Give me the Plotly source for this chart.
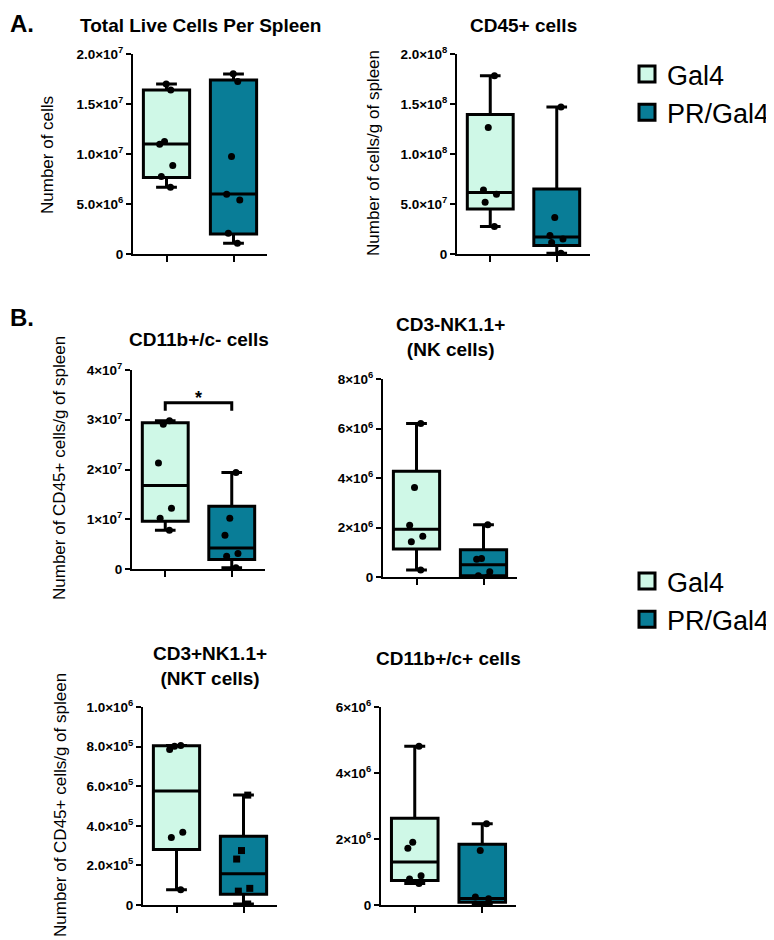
import plotly.graph_objects as go

groups = ["Gal4", "PR/Gal4"]
fill_colors = ["#cff8e7", "#097d97"]

# A. total live cells per spleen
live_gal4 = [17.0e6, 16.4e6, 11.25e6, 10.98e6, 8.85e6, 7.75e6, 6.68e6]
live_pr = [18.03e6, 17.26e6, 9.75e6, 5.98e6, 5.41e6, 2.07e6, 1.07e6]
live_stats_gal4 = [6.68e6, 7.65e6, 11.0e6, 16.4e6, 17.0e6]   # min, q1, median, q3, max
live_stats_pr = [1.07e6, 2.0e6, 6.0e6, 17.4e6, 18.0e6]

# A. CD45+ cells per g of spleen
cd45_gal4 = [178.3e6, 126.5e6, 64.1e6, 59.8e6, 51.8e6, 27.4e6]
cd45_pr = [146.9e6, 36.4e6, 18.4e6, 15.0e6, 11.4e6, 0.7e6]
cd45_stats_gal4 = [27.4e6, 45.1e6, 61.5e6, 139.5e6, 178.3e6]
cd45_stats_pr = [0.7e6, 8.4e6, 17.0e6, 65.0e6, 146.9e6]

# B. CD11b+/c- cells
cd11c_neg_gal4 = [29.8e6, 29.1e6, 21.3e6, 12.2e6, 10.2e6, 7.8e6]
cd11c_neg_pr = [19.4e6, 10.2e6, 6.8e6, 3.1e6, 2.55e6, 0.27e6]
cd11c_neg_stats_gal4 = [7.8e6, 9.6e6, 16.8e6, 29.4e6, 29.8e6]
cd11c_neg_stats_pr = [0.27e6, 1.9e6, 4.2e6, 12.6e6, 19.4e6]

# B. NK cells
nk_gal4 = [6.2e6, 3.62e6, 2.09e6, 1.65e6, 1.42e6, 0.28e6]
nk_pr = [2.11e6, 0.75e6, 0.72e6, 0.21e6, 0.05e6, 0.0]
nk_stats_gal4 = [0.28e6, 1.13e6, 1.93e6, 4.27e6, 6.2e6]
nk_stats_pr = [0.0, 0.05e6, 0.5e6, 1.1e6, 2.11e6]

# B. NKT cells
nkt_gal4 = [8.06e5, 8.02e5, 7.85e5, 3.67e5, 3.41e5, 0.77e5]
nkt_pr = [5.55e5, 2.75e5, 2.32e5, 0.84e5, 0.70e5, 0.05e5]
nkt_stats_gal4 = [0.77e5, 2.8e5, 5.76e5, 8.04e5, 8.06e5]
nkt_stats_pr = [0.05e5, 0.54e5, 1.58e5, 3.47e5, 5.55e5]

# B. CD11b+/c+ cells
cd11c_pos_gal4 = [4.81e6, 1.90e6, 1.72e6, 0.886e6, 0.785e6, 0.655e6]
cd11c_pos_pr = [2.46e6, 1.65e6, 0.24e6, 0.19e6, 0.01e6, 0.0]
cd11c_pos_stats_gal4 = [0.655e6, 0.745e6, 1.30e6, 2.63e6, 4.81e6]
cd11c_pos_stats_pr = [0.0, 0.08e6, 0.2e6, 1.84e6, 2.46e6]

# tick values / labels
live_ticks = [0, 5e6, 1e7, 1.5e7, 2e7]
live_ticktext = ["0", "5.0×10<sup>6</sup>", "1.0×10<sup>7</sup>", "1.5×10<sup>7</sup>", "2.0×10<sup>7</sup>"]
cd45_ticks = [0, 5e7, 1e8, 1.5e8, 2e8]
cd45_ticktext = ["0", "5.0×10<sup>7</sup>", "1.0×10<sup>8</sup>", "1.5×10<sup>8</sup>", "2.0×10<sup>8</sup>"]
cd11c_neg_ticks = [0, 1e7, 2e7, 3e7, 4e7]
cd11c_neg_ticktext = ["0", "1×10<sup>7</sup>", "2×10<sup>7</sup>", "3×10<sup>7</sup>", "4×10<sup>7</sup>"]
nk_ticks = [0, 2e6, 4e6, 6e6, 8e6]
nk_ticktext = ["0", "2×10<sup>6</sup>", "4×10<sup>6</sup>", "6×10<sup>6</sup>", "8×10<sup>6</sup>"]
nkt_ticks = [0, 2e5, 4e5, 6e5, 8e5, 1e6]
nkt_ticktext = ["0", "2.0×10<sup>5</sup>", "4.0×10<sup>5</sup>", "6.0×10<sup>5</sup>", "8.0×10<sup>5</sup>", "1.0×10<sup>6</sup>"]
cd11c_pos_ticks = [0, 2e6, 4e6, 6e6]
cd11c_pos_ticktext = ["0", "2×10<sup>6</sup>", "4×10<sup>6</sup>", "6×10<sup>6</sup>"]

panels = [
    ("Total Live Cells Per Spleen", (live_gal4, live_pr), (live_stats_gal4, live_stats_pr), live_ticks, live_ticktext),
    ("CD45+ cells", (cd45_gal4, cd45_pr), (cd45_stats_gal4, cd45_stats_pr), cd45_ticks, cd45_ticktext),
    ("CD11b+/c- cells", (cd11c_neg_gal4, cd11c_neg_pr), (cd11c_neg_stats_gal4, cd11c_neg_stats_pr), cd11c_neg_ticks, cd11c_neg_ticktext),
    ("CD3-NK1.1+<br>(NK cells)", (nk_gal4, nk_pr), (nk_stats_gal4, nk_stats_pr), nk_ticks, nk_ticktext),
    ("CD3+NK1.1+<br>(NKT cells)", (nkt_gal4, nkt_pr), (nkt_stats_gal4, nkt_stats_pr), nkt_ticks, nkt_ticktext),
    ("CD11b+/c+ cells", (cd11c_pos_gal4, cd11c_pos_pr), (cd11c_pos_stats_gal4, cd11c_pos_stats_pr), cd11c_pos_ticks, cd11c_pos_ticktext),
]

W, H = 774, 940
OFF = 8  # the page body margin shifts the figure by this many pixels


def px_x(s):
    return (s - OFF) / W


def px_y(s):
    return 1 - (s - OFF) / H


# plot areas in screen pixels: x0, x1, y_top, y_bottom
boxes_px = [
    (133, 267, 54, 254),
    (457, 590, 54, 254),
    (132, 265, 370, 569),
    (383, 517, 379, 577),
    (143, 277, 707, 905),
    (381, 516, 707, 905),
]
# title centre y (px) for each panel
title_y = [25, 25, 340, 337, 666, 658]

FONT = "Liberation Sans, Arial, sans-serif"
fig = go.Figure()
annotations = []

for i, (title, pts, stats, tv, tt) in enumerate(panels):
    n = "" if i == 0 else str(i + 1)
    x0, x1, yt, yb = boxes_px[i]
    for g in range(2):
        s = stats[g]
        symbol = "square" if (i == 4 and g == 1) else "circle"
        fig.add_trace(go.Box(
            x=[groups[g]], y=[pts[g]],
            lowerfence=[s[0]], q1=[s[1]], median=[s[2]], q3=[s[3]], upperfence=[s[4]],
            boxpoints="all", jitter=0.35, pointpos=0,
            fillcolor=fill_colors[g], line=dict(color="black", width=3),
            marker=dict(color="black", size=7, symbol=symbol),
            width=0.69, whiskerwidth=0.45,
            showlegend=False, xaxis="x" + n, yaxis="y" + n,
        ))
    fig.layout["xaxis" + n] = dict(
        domain=[px_x(x0), px_x(x1)], anchor="y" + n, range=[-0.5, 1.5], automargin=False,
        type="category", categoryorder="array", categoryarray=groups,
        showline=True, linecolor="black", linewidth=2, showgrid=False, zeroline=False,
        ticks="outside", ticklen=6, tickwidth=2, tickcolor="black", showticklabels=False,
    )
    fig.layout["yaxis" + n] = dict(
        domain=[px_y(yb), px_y(yt)], anchor="x" + n, range=[0, tv[-1]], automargin=False,
        showline=True, linecolor="black", linewidth=2, showgrid=False, zeroline=False,
        ticks="outside", ticklen=5, tickwidth=2, tickcolor="black",
        tickvals=tv, ticktext=tt, tickfont=dict(family=FONT, size=13.5, color="black", weight="bold"),
    )
    annotations.append(dict(
        text=title, x=px_x((x0 + x1) / 2), y=px_y(title_y[i]), xref="paper", yref="paper",
        showarrow=False, xanchor="center", yanchor="middle",
        font=dict(family=FONT, size=19, color="black", weight="bold"),
    ))

# y axis titles
ytitles = [
    ("Number of cells", 48, 155),
    ("Number of cells/g of spleen", 373, 153),
    ("Number of CD45+ cells/g of spleen", 60, 468),
    ("Number of CD45+ cells/g of spleen", 60, 805),
]
for text, px, py in ytitles:
    annotations.append(dict(
        text=text, x=px_x(px), y=px_y(py), xref="paper", yref="paper", textangle=-90,
        showarrow=False, xanchor="center", yanchor="middle",
        font=dict(family=FONT, size=17, color="black"),
    ))

# panel letters
for text, px, py in [("A.", 8, 8), ("B.", 8, 302)]:
    annotations.append(dict(
        text=text, x=px_x(px), y=px_y(py), xref="paper", yref="paper",
        showarrow=False, xanchor="left", yanchor="top",
        font=dict(family=FONT, size=24, color="black", weight="bold"),
    ))

# significance bracket on CD11b+/c- panel
annotations.append(dict(
    text="*", x=0.5, y=3.44e7, xref="x3", yref="y3", showarrow=False,
    xanchor="center", yanchor="middle", font=dict(family=FONT, size=18, color="black", weight="bold"),
))
fig.add_shape(type="path", path="M 0,3.18e7 L 0,3.34e7 L 1,3.34e7 L 1,3.18e7",
              xref="x3", yref="y3", line=dict(color="black", width=3))

# legend entries
for g in range(2):
    for lg in ["legend", "legend2"]:
        fig.add_trace(go.Scatter(
            x=[None], y=[None], mode="markers", name=groups[g], legend=lg,
            marker=dict(symbol="square", size=20, color=fill_colors[g], line=dict(color="black", width=3)),
        ))

leg_style = dict(font=dict(family=FONT, size=27, color="black"), itemsizing="trace",
                 bgcolor="rgba(0,0,0,0)", xanchor="left", yanchor="top", tracegroupgap=0,
                 xref="container", yref="container", borderwidth=0)
fig.update_layout(
    width=W, height=H,
    margin=dict(l=0, r=0, t=0, b=0, autoexpand=False),
    paper_bgcolor="white", plot_bgcolor="white",
    boxmode="overlay",
    annotations=annotations,
    legend=dict(x=px_x(627), y=px_y(50), **leg_style),
    legend2=dict(x=px_x(627), y=px_y(557), **leg_style),
)

fig.write_html("out.html")
